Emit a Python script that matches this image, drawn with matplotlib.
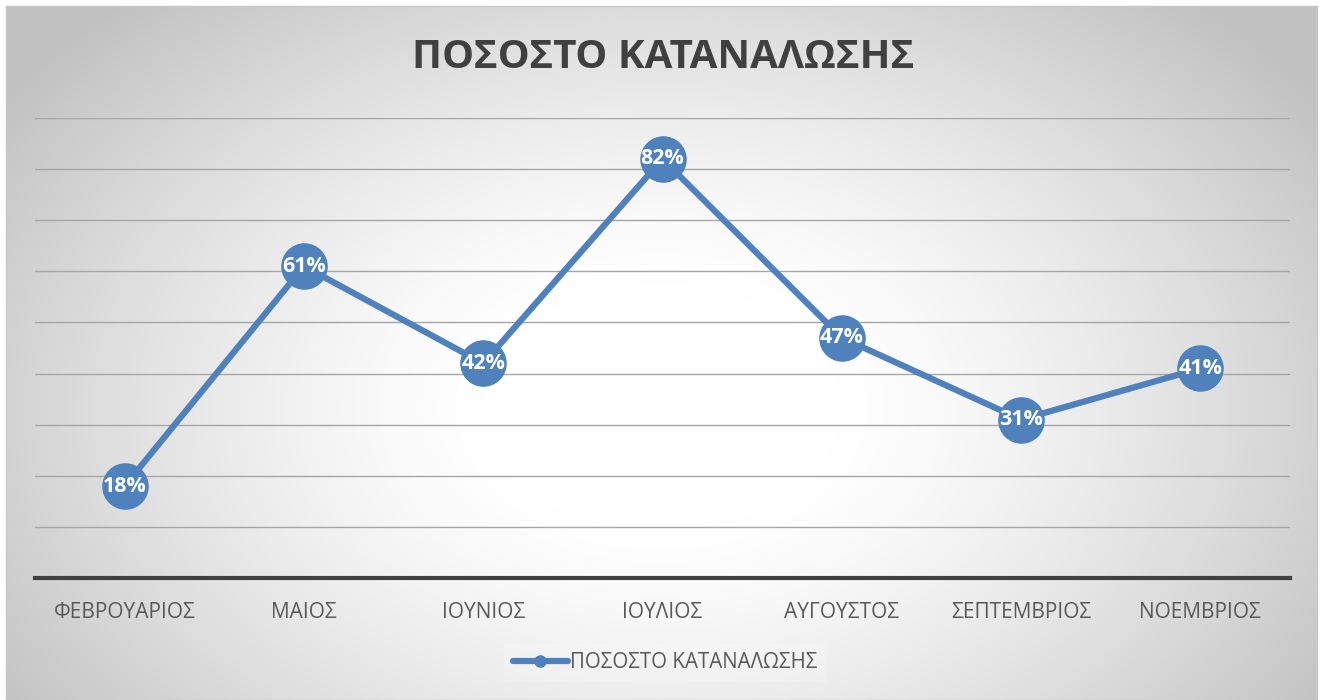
import numpy as np
import matplotlib
matplotlib.use("Agg")
import matplotlib.pyplot as plt
from matplotlib.lines import Line2D

plt.rcParams['font.family'] = ['Open Sans', 'DejaVu Sans']

months = ["ΦΕΒΡΟΥΑΡΙΟΣ", "ΜΑΙΟΣ", "ΙΟΥΝΙΟΣ", "ΙΟΥΛΙΟΣ", "ΑΥΓΟΥΣΤΟΣ", "ΣΕΠΤΕΜΒΡΙΟΣ", "ΝΟΕΜΒΡΙΟΣ"]
values = [18, 61, 42, 82, 47, 31, 41]
series_name = "ΠΟΣΟΣΤΟ ΚΑΤΑΝΑΛΩΣΗΣ"
title = "ΠΟΣΟΣΤΟ ΚΑΤΑΝΑΛΩΣΗΣ"

W, H = 1320, 700
fig = plt.figure(figsize=(W / 100, H / 100), dpi=100)
fig.patch.set_facecolor("white")

# background radial gradient in chart frame
bx0, by0, bx1, by1 = 6, 6, 1317, 700
bg = fig.add_axes([bx0 / W, 1 - by1 / H, (bx1 - bx0) / W, (by1 - by0) / H], zorder=0)
gw, gh = 400, 220
xx, yy = np.meshgrid(np.linspace(0, 1, gw), np.linspace(0, 1, gh))
cx, cy = 0.5, 0.58
r = np.sqrt(((xx - cx) / 0.55) ** 2 + ((yy - cy) / 0.72) ** 2)
val = 1 - 0.24 * np.clip((r - 0.25) / 0.85, 0, 1) ** 1.3
img = np.dstack([val, val, val])
bg.imshow(img, aspect="auto", extent=[0, 1, 0, 1], origin="upper", interpolation="bilinear")
bg.set_xlim(0, 1)
bg.set_ylim(0, 1)
bg.set_xticks([])
bg.set_yticks([])
for s in bg.spines.values():
    s.set_color("#C8C8C8")
    s.set_linewidth(1.0)

# main axes
x0, x1, ytop, ybot = 35, 1290, 118, 578
ax = fig.add_axes([x0 / W, 1 - ybot / H, (x1 - x0) / W, (ybot - ytop) / H], zorder=1)
ax.patch.set_alpha(0)
ax.set_xlim(-0.5, len(months) - 0.5)
ax.set_ylim(0, 90)
ax.set_yticks(np.arange(10, 91, 10))
ax.yaxis.grid(True, color="#A6A6A6", linewidth=1.0)
ax.set_axisbelow(True)
ax.tick_params(axis="y", left=False, labelleft=False)
for s in ["top", "right", "left"]:
    ax.spines[s].set_visible(False)
ax.spines["bottom"].set_color("#404040")
ax.spines["bottom"].set_linewidth(3.0)

xs = np.arange(len(months))
blue = "#4F81BD"
ax.plot(xs, values, color=blue, linewidth=4.5, marker="o", markersize=32.5,
        markerfacecolor=blue, markeredgecolor=blue, solid_capstyle="round", zorder=3, clip_on=False)
for x, v in zip(xs, values):
    ax.text(x, v, f"{v}%", ha="center", va="center", color="white", fontsize=15.5,
            fontweight="bold", zorder=4)

ax.set_xticks(xs)
ax.set_xticklabels(months, fontsize=15, color="#595959")
ax.tick_params(axis="x", length=0, pad=17)

fig.text(663 / W, 1 - 57 / H, title, ha="center", va="center", fontsize=29,
         fontweight="bold", color="#404040")

handle = Line2D([], [], color=blue, linewidth=4.5, marker="o", markersize=8,
                markerfacecolor=blue, markeredgecolor=blue, solid_capstyle="round")
leg = fig.legend([handle], [series_name], loc="center", bbox_to_anchor=(665 / W, 1 - 663 / H),
                 frameon=True, fontsize=14.8, handlelength=2.7, handletextpad=0.1,
                 labelcolor="#595959")
leg.get_frame().set_facecolor("white")
leg.get_frame().set_alpha(0.2)
leg.get_frame().set_edgecolor("none")
leg.get_frame().set_boxstyle("square", pad=0.0)

fig.savefig("out.png", dpi=100, facecolor="white")
